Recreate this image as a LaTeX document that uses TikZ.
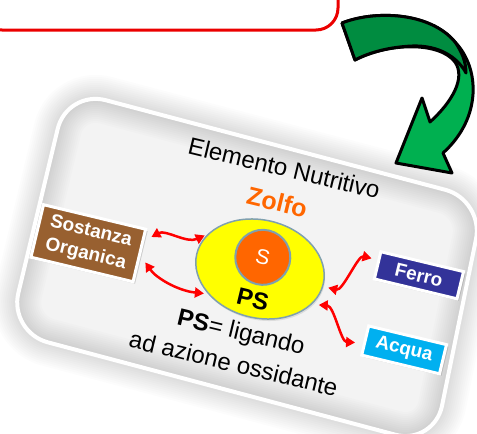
\documentclass[tikz,border=0pt]{standalone}
\usepackage{fontspec}
\setmainfont{Liberation Sans}
\usepackage{tikz}
\definecolor{brownbox}{RGB}{152,96,48}
\definecolor{ferro}{RGB}{51,51,153}
\definecolor{acqua}{RGB}{0,176,240}
\definecolor{zolfo}{RGB}{255,102,0}
\definecolor{psyellow}{RGB}{255,255,0}
\definecolor{rim}{RGB}{127,160,175}
\definecolor{darkgreen}{RGB}{0,140,64}
\definecolor{lightgreen}{RGB}{0,176,80}
\definecolor{redline}{RGB}{235,0,0}
\definecolor{card}{RGB}{243,243,243}
\usetikzlibrary{positioning,arrows.meta,shapes.geometric,shadows}
\tikzset{%
  namebox/.style={draw=white, line width=3pt, rectangle, text=white, inner sep=0pt,
    font=\fontsize{19}{23}\selectfont\bfseries, align=center, transform shape,
    drop shadow={shadow xshift=2pt, shadow yshift=-2pt, opacity=.35}},% coloured box
  cardtext/.style={font=\fontsize{24}{33}\selectfont, align=center, transform shape},% text on the card
  link/.style={draw=red, line width=2.5pt,
    {Triangle[length=9pt,width=10pt]}-{Triangle[length=9pt,width=10pt]}}% wavy double arrow
}

\begin{document}
\begin{tikzpicture}[x=1pt, y=-1pt]
\useasboundingbox (0,0) rectangle (477,434);
\clip (0,0) rectangle (477,434);

% red frame of the box above
\draw[redline, line width=3pt, rounded corners=22pt] (-20,-40) rectangle (338,30);

% card
\fill[card, rounded corners=40pt] (67,90) -- (484,200) -- (434,445) -- (9,332) -- cycle;
\foreach \w in {48,44,...,4}
  \draw[black, opacity=0.012, line width=\w pt, rounded corners=40pt] (67,90) -- (484,200) -- (434,445) -- (9,332) -- cycle;
\draw[white, line width=4pt, rounded corners=40pt] (67,90) -- (484,200) -- (434,445) -- (9,332) -- cycle;

% green curved arrow
\draw[black, line width=3pt, fill=lightgreen, line join=round] (342,23) .. controls (375,10) and (430,12) .. (455,42)
  .. controls (480,68) and (482,118) .. (443,153) -- (452,173) -- (396,163) -- (422,98) -- (430,122)
  .. controls (452,102) and (466,78) .. (455,62) .. controls (440,42) and (390,42) .. (355,60) -- cycle;
\draw[black, line width=3pt, fill=darkgreen, line join=round] (342,23) .. controls (375,10) and (430,12) .. (455,42)
  .. controls (462,52) and (466,62) .. (466,73) .. controls (458,58) and (440,45) .. (412,46)
  .. controls (390,47) and (370,52) .. (355,60) -- cycle;

\begin{scope}[shift={(260,269)}, rotate=-13.5]
\node[ellipse, draw=rim, line width=1.5pt, fill=psyellow, minimum width=130pt, minimum height=98pt,
  inner sep=0pt, transform shape, drop shadow={opacity=.2, shadow xshift=1pt, shadow yshift=-2pt}] (ps) at (0,0) {};
\node[circle, draw=rim, line width=2pt, fill=zolfo, minimum size=55pt, inner sep=0pt, text=white,
  font=\fontsize{21}{21}\selectfont, transform shape] (s) at (0,-12) {S};
\node[cardtext, font=\fontsize{24}{24}\selectfont\bfseries] (p) at (0,31) {PS};

\node[cardtext] (el) at (0,-104) {Elemento Nutritivo};
\node[cardtext, text=zolfo, font=\fontsize{25}{25}\selectfont\bfseries] (zo) at (1,-69) {Zolfo};
\node[cardtext] (lig) at (-3.5,81.5) {\textbf{PS}= ligando\\ad azione ossidante};

\node[namebox, fill=brownbox, minimum width=105pt, minimum height=54pt] (so) at (-173,15) {Sostanza\\Organica};
\node[namebox, fill=ferro, minimum width=85pt, minimum height=28pt] (fe) at (156,-31) {Ferro};
\node[namebox, fill=acqua, minimum width=80pt, minimum height=30pt] (aq) at (159,45) {Acqua};

\draw[link, shorten <=8pt, shorten >=3pt] (so.16.5) .. controls +(18,-16) and +(-18,14) .. (ps.160.5);
\draw[link, shorten <=8pt, shorten >=4pt] (so.east) .. controls +(20,18) and +(-30,4) .. (ps.219.7);
\draw[link, shorten <=5pt, shorten >=6pt] (ps.-2.5) .. controls +(20,0) and +(-20,0) .. (fe.173);
\draw[link, shorten <=7pt, shorten >=8pt] (ps.-21) .. controls +(22,-4) and +(-22,4) .. (aq.184.6);
\end{scope}
\end{tikzpicture}
\end{document}
